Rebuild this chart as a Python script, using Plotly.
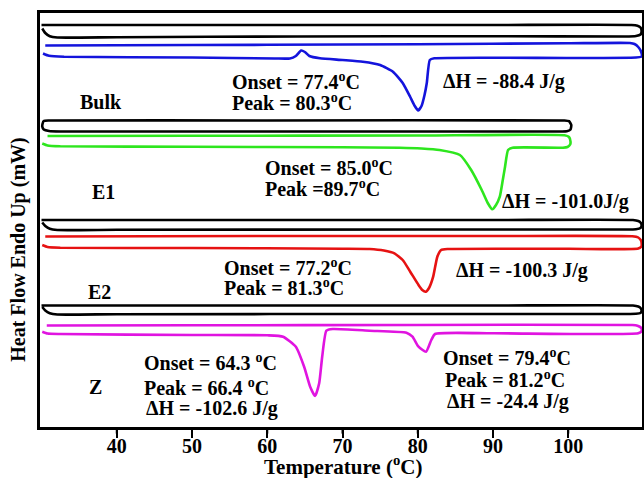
import plotly.graph_objects as go

# ---------------- data (temperature in °C, heat flow in arbitrary offset units) -------------
# Bulk
bulk_black_T = [30.0, 60.0, 90.0, 108.4, 109.2, 109.6, 109.75, 109.6, 109.0, 107.5, 90.0, 64.0, 40.0, 32.1, 31.1, 30.5, 30.1]
bulk_black_HF = [40.2, 40.2, 40.2, 40.2, 40.12, 39.95, 39.6, 39.25, 39.1, 39.05, 39.08, 39.05, 38.98, 38.95, 39.08, 39.4, 39.85]
bulk_T = [30.2, 31.0, 33.0, 50.0, 61.0, 63.0, 63.8, 64.5, 65.0, 65.6, 67.0, 70.0, 72.7, 75.0, 76.7, 78.0, 79.0,
          79.6, 80.05, 80.5, 80.9, 81.2, 81.6, 82.2, 100.0, 109.0, 109.75, 109.7, 109.3, 108.8, 108.2,
          100.0, 80.0, 60.0, 40.0, 30.5]
bulk_HF = [37.35, 37.12, 37.02, 36.95, 36.85, 36.85, 37.1, 37.65, 37.5, 37.1, 36.87, 36.7, 36.53, 36.2, 35.53, 34.4, 33.0,
           32.1, 31.65, 32.1, 33.2, 34.4, 36.7, 36.87, 36.9, 36.95, 37.05, 37.5, 38.0, 38.3, 38.4,
           38.37, 38.28, 38.22, 38.18, 38.15]

# E1
e1_black_T = [30.3, 31.0, 60.0, 99.5, 100.1, 100.4, 100.3, 99.8, 99.0, 70.0, 40.0, 32.5, 31.0, 30.3, 30.1, 30.15, 30.3]
e1_black_HF = [30.6, 30.65, 30.65, 30.65, 30.58, 30.2, 29.75, 29.57, 29.55, 29.55, 29.55, 29.55, 29.6, 29.75, 30.05, 30.35, 30.6]
e1_T = [30.1, 30.8, 32.5, 50.0, 70.0, 77.6, 80.5, 82.9, 85.6, 87.1, 88.5, 89.3, 89.9, 90.4, 90.9, 91.3, 91.6, 92.0,
        92.6, 99.3, 99.9, 100.25, 100.3, 100.1, 99.5, 80.0, 50.0, 30.8]
e1_HF = [28.35, 28.15, 28.07, 28.02, 27.97, 27.93, 27.85, 27.7, 27.2, 25.7, 23.7, 22.4, 21.77, 22.2, 23.03, 24.7, 26.03, 27.7,
         27.93, 27.93, 28.0, 28.25, 28.53, 29.0, 29.17, 29.15, 29.12, 29.1]

# E2
e2_black_T = [30.0, 60.0, 90.0, 108.6, 109.3, 109.6, 109.75, 109.6, 109.0, 107.5, 80.0, 40.0, 32.1, 31.1, 30.5, 30.1]
e2_black_HF = [20.7, 20.7, 20.7, 20.7, 20.6, 20.45, 20.2, 19.9, 19.78, 19.75, 19.75, 19.72, 19.7, 19.82, 20.1, 20.45]
e2_T = [30.1, 30.8, 32.5, 50.0, 70.0, 73.6, 75.5, 76.9, 78.0, 79.0, 80.1, 80.6, 81.06, 81.5, 82.05, 82.6, 83.1, 84.0,
        100.0, 109.3, 109.75, 109.7, 109.3, 108.5, 90.0, 60.0, 30.5]
e2_HF = [18.2, 18.0, 17.93, 17.9, 17.83, 17.8, 17.65, 17.37, 16.7, 15.53, 14.2, 13.7, 13.53, 13.9, 15.03, 17.03, 17.7, 17.8,
         17.82, 17.85, 18.1, 18.6, 18.95, 19.07, 19.1, 19.1, 19.05]

# Z
z_black_T = [30.0, 60.0, 90.0, 108.6, 109.3, 109.6, 109.75, 109.6, 109.0, 107.5, 80.0, 40.0, 32.1, 31.1, 30.5, 30.1]
z_black_HF = [12.15, 12.15, 12.15, 12.15, 12.05, 11.9, 11.65, 11.4, 11.32, 11.3, 11.3, 11.28, 11.25, 11.38, 11.65, 12.0]
z_T = [30.1, 30.8, 32.5, 50.0, 60.0, 62.1, 63.8, 64.9, 65.7, 66.35, 66.9, 67.3, 67.86, 68.7, 73.6, 78.5, 79.3, 80.1,
       81.1, 81.8, 82.3, 90.0, 109.3, 109.75, 109.7, 109.2, 108.5, 80.0, 50.0, 30.7]
z_HF = [9.53, 9.35, 9.3, 9.2, 9.17, 9.03, 8.03, 6.03, 4.03, 3.1, 4.37, 7.03, 9.63, 9.8, 9.63, 9.43, 9.03, 8.03,
        7.53, 8.7, 9.3, 9.37, 9.37, 9.6, 9.9, 10.13, 10.2, 10.2, 10.17, 10.15]

# annotation texts and anchor positions (T, HF)
labels = ["Onset = 77.4<sup>o</sup>C", "Peak = 80.3<sup>o</sup>C", "\u0394H = -88.4 J/g",
          "Onset = 85.0<sup>o</sup>C", "Peak =89.7<sup>o</sup>C", "\u0394H = -101.0J/g",
          "Onset = 77.2<sup>o</sup>C", "Peak = 81.3<sup>o</sup>C", "\u0394H = -100.3 J/g",
          "Onset = 64.3 <sup>o</sup>C", "Peak = 66.4 <sup>o</sup>C", "\u0394H = -102.6 J/g",
          "Onset = 79.4<sup>o</sup>C", "Peak = 81.2<sup>o</sup>C", "\u0394H = -24.4 J/g"]
labels_T = [55.07, 55.07, 83.13,
            59.43, 59.43, 90.9,
            53.98, 53.98, 84.8,
            43.36, 43.36, 43.63,
            83.13, 83.4, 83.68]
labels_HF = [34.63, 32.53, 34.53,
             25.97, 23.87, 22.53,
             16.03, 13.97, 15.7,
             6.53, 4.03, 1.87,
             7.03, 4.77, 2.53]

sample_names = ["Bulk", "E1", "E2", "Z"]
sample_T = [37.86, 38.25, 37.72, 37.18]
sample_HF = [32.53, 23.53, 13.53, 4.03]

x_ticks = [40, 50, 60, 70, 80, 90, 100]

# ---------------- figure -------------------------------------------------------------------
FONT = "Liberation Serif, Times New Roman, serif"
fig = go.Figure()

curves = [
    (bulk_black_T, bulk_black_HF, "#000000"),
    (bulk_T, bulk_HF, "#1414dc"),
    (e1_black_T, e1_black_HF, "#000000"),
    (e1_T, e1_HF, "#2ee61e"),
    (e2_black_T, e2_black_HF, "#000000"),
    (e2_T, e2_HF, "#e61212"),
    (z_black_T, z_black_HF, "#000000"),
    (z_T, z_HF, "#e014e0"),
]
for xs, ys, col in curves:
    fig.add_trace(go.Scatter(x=xs, y=ys, mode="lines",
                             line=dict(color=col, width=2.6, shape="spline", smoothing=0.5),
                             showlegend=False, hoverinfo="skip"))

for txt, tx, ty in zip(labels, labels_T, labels_HF):
    fig.add_annotation(x=tx, y=ty, xref="x", yref="y", text=txt, showarrow=False,
                       xanchor="left", yanchor="middle",
                       font=dict(family=FONT, size=20, color="black", weight="bold"))

for txt, tx, ty in zip(sample_names, sample_T, sample_HF):
    fig.add_annotation(x=tx, y=ty, xref="x", yref="y", text=txt, showarrow=False,
                       xanchor="center", yanchor="middle",
                       font=dict(family=FONT, size=20, color="black", weight="bold"))

# explicit outside tick marks at the x tick values
for t in x_ticks:
    fig.add_shape(type="line", xref="x", yref="paper", x0=t, x1=t, y0=0, y1=-0.016,
                  line=dict(color="black", width=2))

# axis titles
fig.add_annotation(x=-0.037, y=0.4275, xref="paper", yref="paper",
                   text="Heat Flow Endo Up (mW)", textangle=-90, showarrow=False,
                   xanchor="center", yanchor="middle",
                   font=dict(family=FONT, size=20, color="black", weight="bold"))
fig.add_annotation(x=0.503, y=-0.092, xref="paper", yref="paper",
                   text="Temperature (<sup>o</sup>C)", showarrow=False,
                   xanchor="center", yanchor="middle",
                   font=dict(family=FONT, size=21, color="black", weight="bold"))

fig.update_layout(
    width=644, height=478,
    margin=dict(l=40, r=2, t=13, b=51),
    paper_bgcolor="white", plot_bgcolor="white",
    xaxis=dict(range=[29.8, 109.8], tickmode="array", tickvals=x_ticks,
               ticktext=[str(v) for v in x_ticks],
               showgrid=False, zeroline=False, showline=True, linecolor="black", linewidth=2.5,
               mirror=True, ticks="outside", ticklen=8, tickwidth=2, tickcolor="#000000",
               ticklabelstandoff=-9,
               tickfont=dict(family=FONT, size=20, color="black", weight="bold"),
               automargin=False),
    yaxis=dict(range=[0, 41.4], showgrid=False, zeroline=False, showline=True,
               linecolor="black", linewidth=2.5, mirror=True, showticklabels=False,
               ticks="", automargin=False),
)

fig.write_html("out.html")
